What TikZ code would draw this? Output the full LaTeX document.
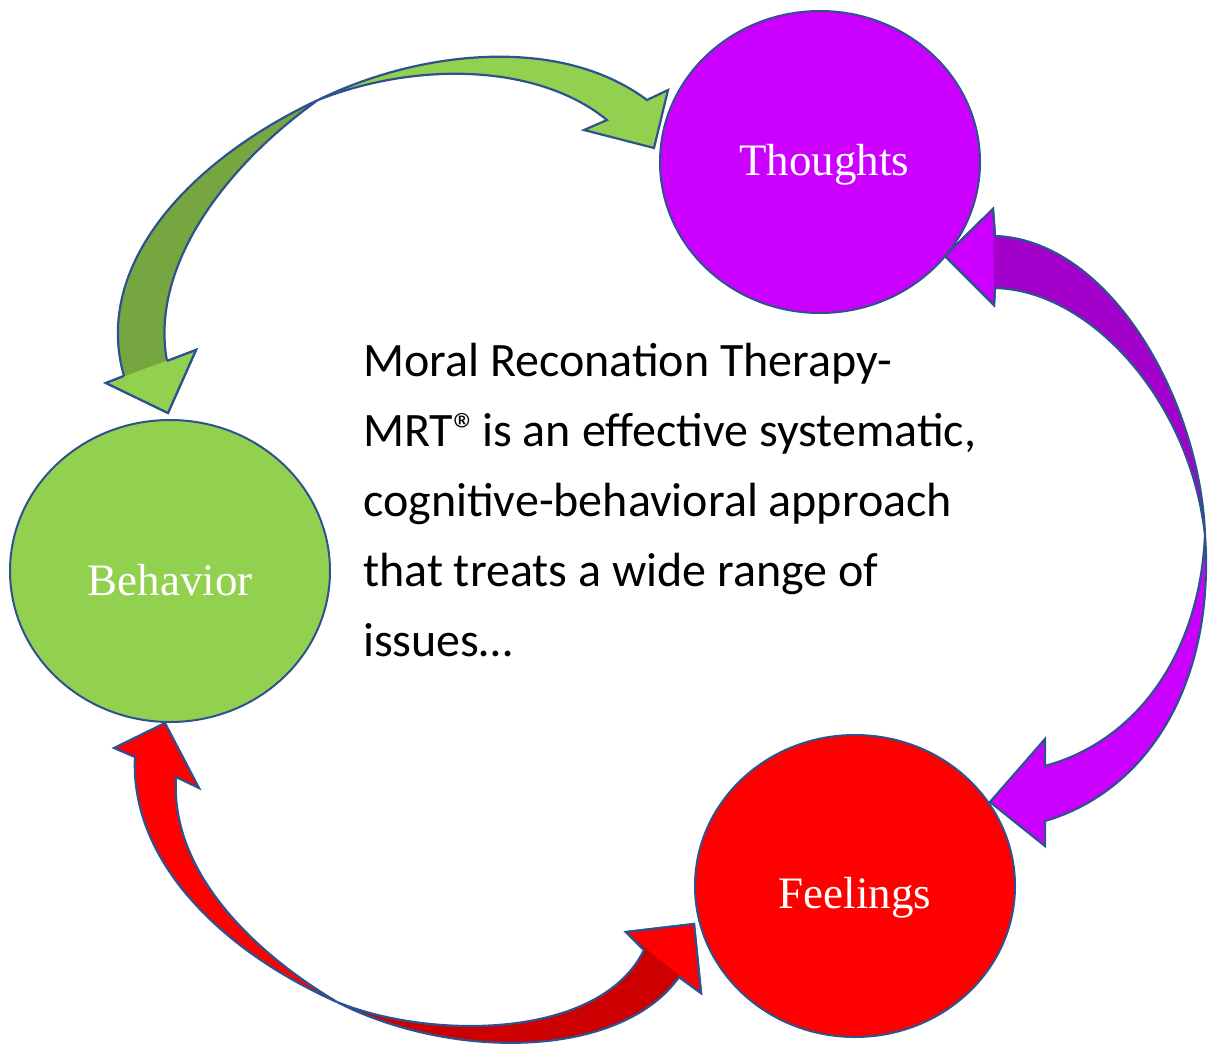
\documentclass[tikz,border=0pt]{standalone}
\usepackage{fontspec}
\setmainfont{Liberation Serif}
\newfontfamily\bodyfont{Carlito}
\usetikzlibrary{shapes.geometric}
\definecolor{mrtline}{RGB}{47,82,143}
\definecolor{mrtgreen}{RGB}{146,208,80}
\definecolor{mrtgreendark}{RGB}{117,166,64}
\definecolor{mrtpurple}{RGB}{204,0,255}
\definecolor{mrtpurpledark}{RGB}{163,0,204}
\definecolor{mrtred}{RGB}{255,0,0}
\definecolor{mrtreddark}{RGB}{204,0,0}

\tikzset{
  bubble/.style={ellipse, draw=mrtline, line width=2pt, minimum width=320pt, minimum height=302pt, inner sep=0pt},
  tag/.style={anchor=base, inner sep=0pt, text=white, font=\fontsize{45}{54}\selectfont},
  ribbon/.style={draw=mrtline, line width=2.2pt, line join=miter},
}

\begin{document}
\begin{tikzpicture}[x=1pt, y=-1pt]
\useasboundingbox (0,0) rectangle (1208,1044);

% The three circles
\node[bubble, fill=mrtpurple] (thoughts) at (820,162) {};
\node[bubble, fill=mrtgreen] (behavior) at (170,571) {};
\node[bubble, fill=mrtred] (feelings) at (855,886) {};

\node[tag] (thoughtstag) at (824,175) {Thoughts};
\node[tag] (behaviortag) at (170,595) {Behavior};
\node[tag] (feelingstag) at (855,908) {Feelings};

% Green ribbon: back face down to Behavior
\filldraw[ribbon, fill=mrtgreendark] (318,100) .. controls (190,160) and (92,265) .. (124,376)
  -- (106,383) -- (168,413) -- (196,350) -- (167,361)
  .. controls (150,270) and (220,170) .. (318,100) -- cycle;
\fill[mrtgreen] (106,383) -- (168,413) -- (196,350) -- cycle;
\draw[ribbon] (124,376) -- (106,383) -- (168,413) -- (196,350) -- (167,361);
% front face over to Thoughts
\filldraw[ribbon, fill=mrtgreen] (318,100) .. controls (420,50) and (560,35) .. (647,100)
  -- (668,90) -- (654,148) -- (584,130) -- (607,120)
  .. controls (540,65) and (420,60) .. (318,100) -- cycle;

% Purple ribbon: back face up to Thoughts
\filldraw[ribbon, fill=mrtpurpledark] (1205,535) .. controls (1200,400) and (1110,240) .. (995,236)
  -- (993,209) -- (945,256) -- (994,305) -- (995,288)
  .. controls (1090,290) and (1190,400) .. (1205,535) -- cycle;
\fill[mrtpurple] (993,209) -- (945,256) -- (994,305) -- cycle;
\draw[ribbon] (995,236) -- (993,209) -- (945,256) -- (994,305) -- (995,288);
% front face down to Feelings
\filldraw[ribbon, fill=mrtpurple] (1205,535) .. controls (1215,680) and (1150,790) .. (1045,821)
  -- (1045,846) -- (990,802) -- (1045,739) -- (1045,766)
  .. controls (1140,740) and (1200,650) .. (1205,535) -- cycle;

% Red ribbon: back face over to Feelings
\filldraw[ribbon, fill=mrtreddark] (337,1002) .. controls (450,1060) and (620,1060) .. (679,977)
  -- (701,993) -- (694,924) -- (626,932) -- (644,950)
  .. controls (600,1040) and (430,1040) .. (337,1002) -- cycle;
\fill[mrtred] (626,932) -- (694,924) -- (701,993) -- cycle;
\draw[ribbon] (644,950) -- (626,932) -- (694,924) -- (701,993) -- (679,977);
% front face up to Behavior
\filldraw[ribbon, fill=mrtred] (337,1002) .. controls (220,950) and (130,860) .. (135,757)
  -- (114,748) -- (165,723) -- (199,788) -- (176,777)
  .. controls (170,870) and (250,950) .. (337,1002) -- cycle;

% Centre text
\node[anchor=base west, align=left, inner sep=0pt, font=\bodyfont\fontsize{48}{70}\selectfont] (mrt) at (363,656)
  {Moral Reconation Therapy-\\MRT®\kern-6pt\ is an effective systematic,\\cognitive-behavioral approach\\that treats a wide range of\\issues…};
\end{tikzpicture}
\end{document}
